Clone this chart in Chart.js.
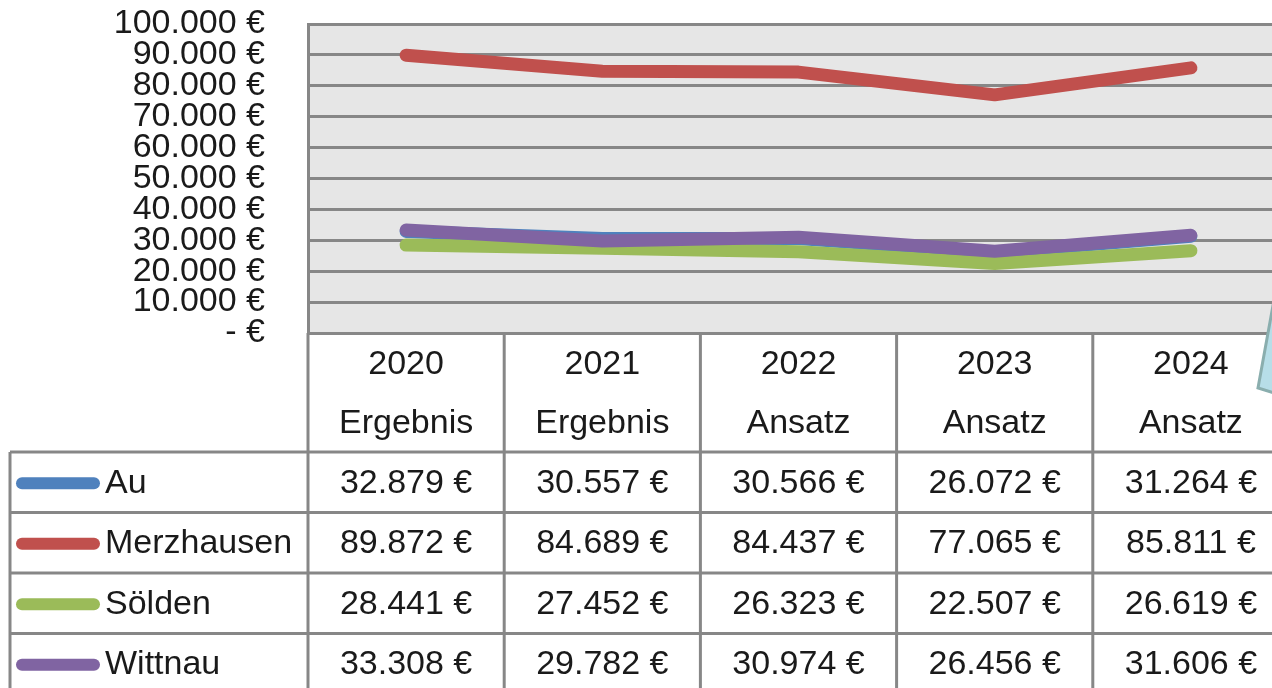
<!DOCTYPE html>
<html>
<head>
<meta charset="utf-8">
<script src="https://cdn.jsdelivr.net/npm/chart.js@4"></script>
<style>
  html, body { margin: 0; padding: 0; background: #fff; overflow: hidden; }
  #wrap { width: 1300px; height: 688px; }
</style>
</head>
<body>
<div id="wrap"><canvas id="myChart" width="1300" height="688"></canvas></div>
<script>
// données du graphique
const years = ['2020', '2021', '2022', '2023', '2024'];
const kinds = ['Ergebnis', 'Ergebnis', 'Ansatz', 'Ansatz', 'Ansatz'];
const au = [32879, 30557, 30566, 26072, 31264];
const merzhausen = [89872, 84689, 84437, 77065, 85811];
const soelden = [28441, 27452, 26323, 22507, 26619];
const wittnau = [33308, 29782, 30974, 26456, 31606];
const seriesNames = ['Au', 'Merzhausen', 'Sölden', 'Wittnau'];
const seriesColors = ['#4f81bd', '#c0504d', '#9bbb59', '#8064a2'];
const yTicks = [0, 10000, 20000, 30000, 40000, 50000, 60000, 70000, 80000, 90000, 100000];

const FONT = '34px "Liberation Sans", Arial, sans-serif';
const GRID = '#878787';
const TXT = '#1a1a1a';

function euro(v) {
  if (v === 0) return '- €';
  return v.toLocaleString('de-DE') + ' €';
}

// fond gris + tableau de données
const tablePlugin = {
  id: 'tablePlugin',
  beforeDraw(chart) {
    const a = chart.chartArea, ctx = chart.ctx;
    ctx.save();
    ctx.fillStyle = '#e6e6e6';
    ctx.fillRect(a.left, a.top, a.right - a.left, a.bottom - a.top);
    ctx.restore();
  },
  afterDraw(chart) {
    const a = chart.chartArea, ctx = chart.ctx, x = chart.scales.x;
    const colW = (a.right - a.left) / years.length;
    const headBottom = 452;
    const rowH = 60.5;
    const legLeft = 10;
    const allSeries = [au, merzhausen, soelden, wittnau];
    ctx.save();
    ctx.strokeStyle = GRID;
    ctx.lineWidth = 3;
    // lignes verticales
    for (let i = 0; i <= years.length; i++) {
      const cx = a.left + i * colW;
      ctx.beginPath();
      ctx.moveTo(cx, a.bottom);
      ctx.lineTo(cx, 700);
      ctx.stroke();
    }
    ctx.beginPath();
    ctx.moveTo(legLeft, headBottom);
    ctx.lineTo(legLeft, 700);
    ctx.stroke();
    // lignes horizontales
    for (let r = 0; r < allSeries.length; r++) {
      const y = headBottom + r * rowH;
      ctx.beginPath();
      ctx.moveTo(legLeft, y);
      ctx.lineTo(a.right, y);
      ctx.stroke();
    }
    // en-têtes
    ctx.font = FONT;
    ctx.fillStyle = TXT;
    ctx.textAlign = 'center';
    ctx.textBaseline = 'middle';
    years.forEach((yr, i) => {
      const cx = x.getPixelForValue(i);
      ctx.fillText(yr, cx, 365);
      ctx.fillText(kinds[i], cx, 424);
    });
    // lignes du tableau
    allSeries.forEach((vals, r) => {
      const cy = headBottom + r * rowH + rowH / 2 + 1;
      ctx.strokeStyle = seriesColors[r];
      ctx.lineWidth = 12;
      ctx.lineCap = 'round';
      ctx.beginPath();
      ctx.moveTo(22, cy);
      ctx.lineTo(94, cy);
      ctx.stroke();
      ctx.textAlign = 'left';
      ctx.fillText(seriesNames[r], 105, cy);
      ctx.textAlign = 'center';
      vals.forEach((v, i) => {
        ctx.fillText(euro(v), x.getPixelForValue(i), cy);
      });
    });
    // forme bleue coupée à droite
    ctx.beginPath();
    ctx.moveTo(1274, 300);
    ctx.lineTo(1258, 388);
    ctx.lineTo(1274, 393);
    ctx.closePath();
    ctx.fillStyle = '#b7dee8';
    ctx.fill();
    ctx.strokeStyle = '#8aaeae';
    ctx.lineWidth = 3;
    ctx.lineCap = 'butt';
    ctx.stroke();
    ctx.restore();
  }
};

function ds(label, data, color, order) {
  return {
    label: label,
    data: data,
    borderColor: color,
    backgroundColor: color,
    borderWidth: 13,
    borderCapStyle: 'round',
    borderJoinStyle: 'round',
    pointRadius: 0,
    tension: 0,
    order: order
  };
}

const myChart = new Chart(document.getElementById('myChart'), {
  type: 'line',
  data: {
    labels: years,
    datasets: [
      ds(seriesNames[0], au, seriesColors[0], 3),
      ds(seriesNames[1], merzhausen, seriesColors[1], 2),
      ds(seriesNames[2], soelden, seriesColors[2], 1),
      ds(seriesNames[3], wittnau, seriesColors[3], 0)
    ]
  },
  options: {
    responsive: false,
    animation: false,
    layout: { padding: { left: 0, top: 24, right: 11, bottom: 355 } },
    plugins: { legend: { display: false }, tooltip: { enabled: false } },
    scales: {
      x: {
        display: false,
        offset: true
      },
      y: {
        min: 0,
        max: 100000,
        afterFit(scale) {
          scale.width = 308;
          scale.paddingTop = 0;
          scale.paddingBottom = 0;
        },
        afterBuildTicks(scale) { scale.ticks = yTicks.map(v => ({ value: v })); },
        ticks: {
          autoSkip: false,
          padding: 43,
          color: TXT,
          font: { family: '"Liberation Sans", Arial, sans-serif', size: 34 },
          callback: v => euro(v)
        },
        grid: { color: GRID, lineWidth: 3, drawTicks: false },
        border: { display: true, color: GRID, width: 3 }
      }
    }
  },
  plugins: [tablePlugin]
});
</script>
</body>
</html>
